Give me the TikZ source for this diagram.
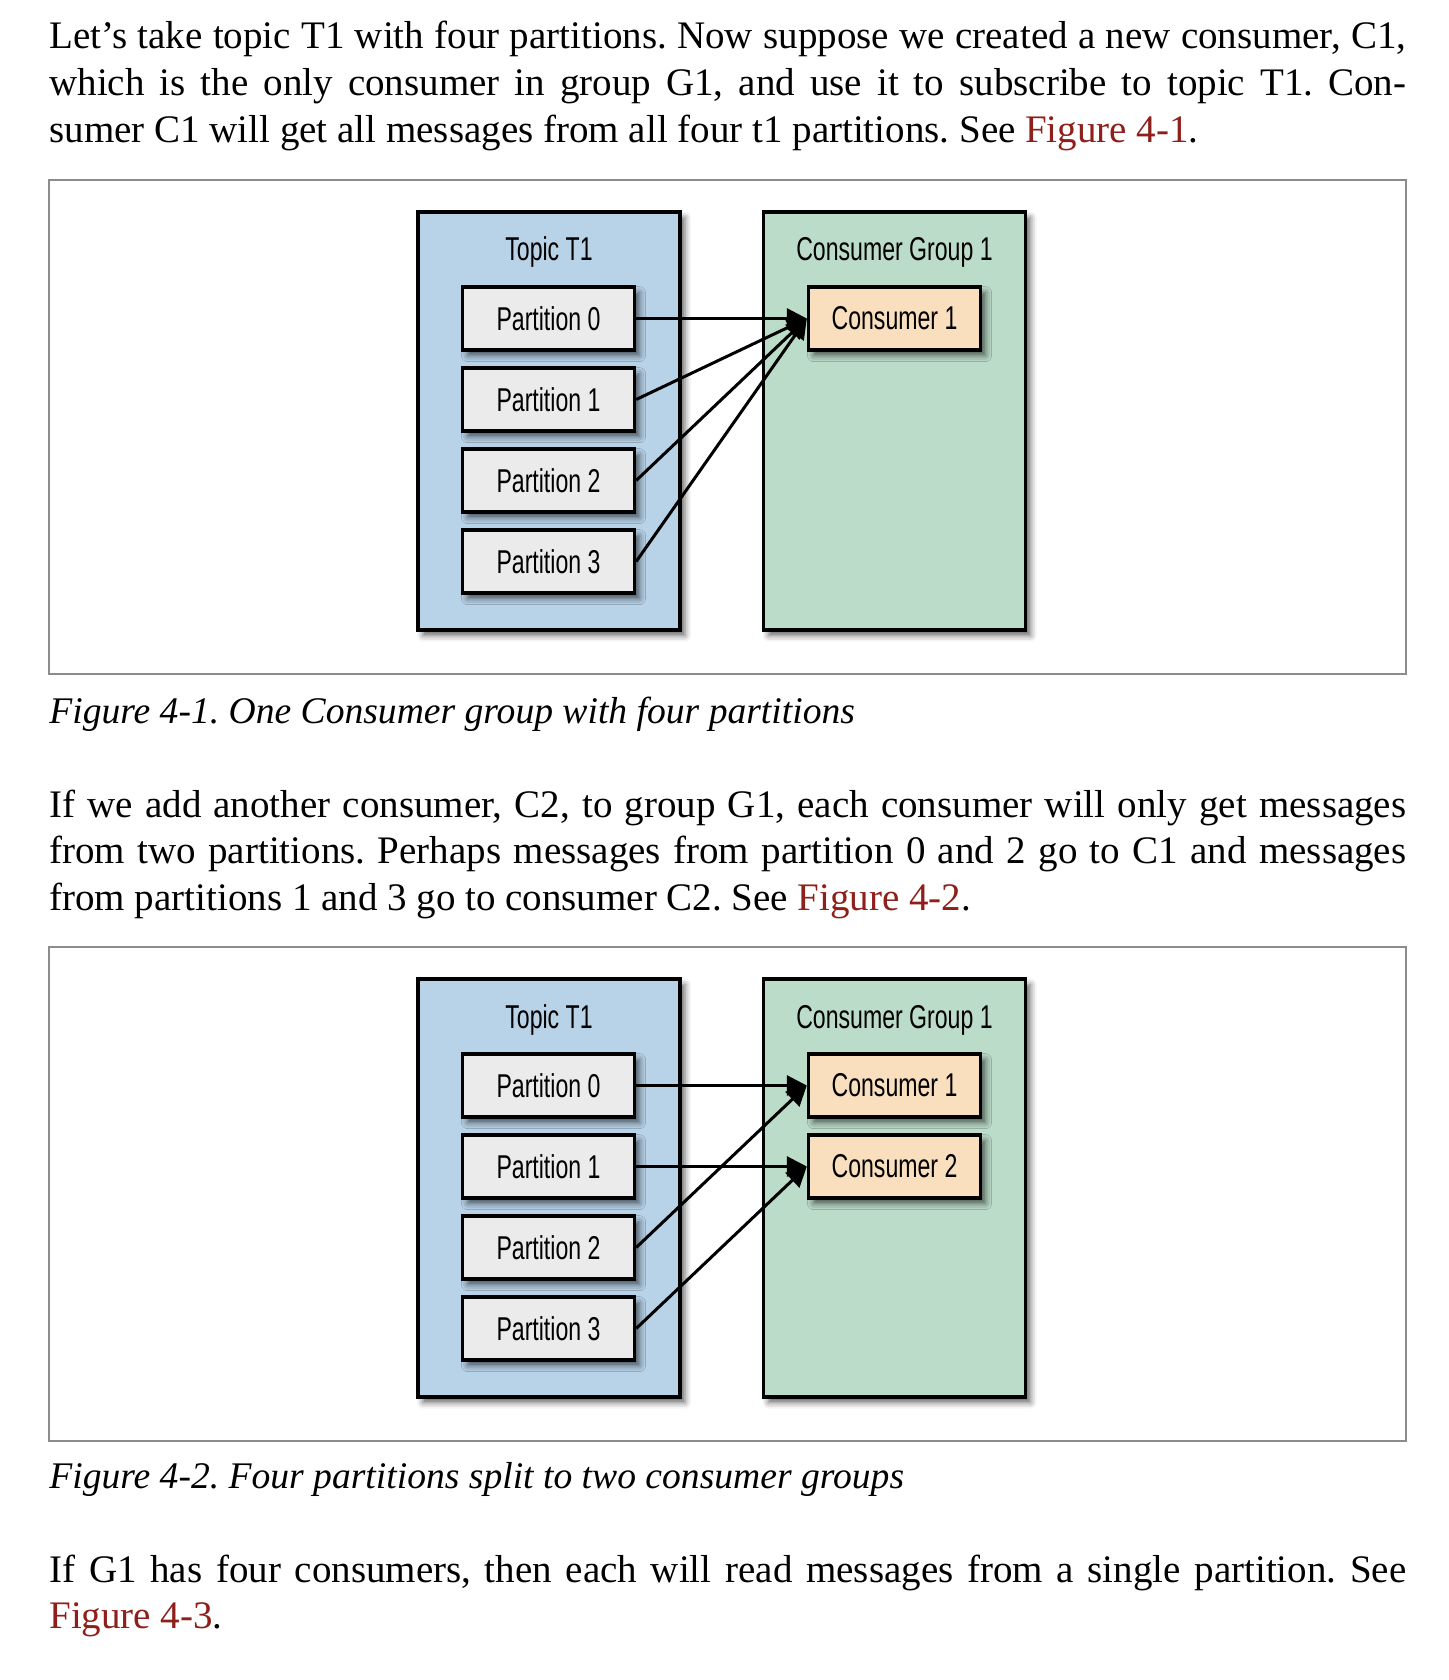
\documentclass[tikz,border=0pt]{standalone}
\usepackage{fontspec}
\setmainfont{Liberation Serif}
\newfontfamily\boxfont[FakeStretch=0.7]{Liberation Sans}
\usetikzlibrary{arrows.meta,shadows.blur}

\definecolor{topicblue}{HTML}{B8D2E8}
\definecolor{groupgreen}{HTML}{BBDCC8}
\definecolor{partgrey}{HTML}{EBEBEB}
\definecolor{conspeach}{HTML}{F9DFBD}
\definecolor{linkred}{HTML}{8E1F1A}
\definecolor{framegrey}{HTML}{8C8C8C}

\newcommand\fullline[1]{\hbox to 678.5pt{#1}}

\tikzset{
  boxshadow/.style={blur shadow={shadow xshift=2.5pt, shadow yshift=-2.8pt, shadow blur radius=3pt, shadow opacity=60}},
  bigbox/.style={draw, line width=1.7pt, minimum width=131pt, minimum height=209pt, boxshadow},
  topicbox/.style={bigbox, fill=topicblue},
  groupbox/.style={bigbox, fill=groupgreen},
  partbox/.style={draw, line width=1.7pt, fill=partgrey, inner sep=0pt, minimum width=86pt, minimum height=31.5pt, font=\boxfont\fontsize{16.5}{18}\selectfont, boxshadow},
  consbox/.style={partbox, fill=conspeach},
  boxtitle/.style={anchor=base, inner sep=0pt, font=\boxfont\fontsize{16.5}{18}\selectfont},
  bodyline/.style={anchor=base west, inner sep=0pt, font=\fontsize{19.5}{23.5}\selectfont},
  figcaption/.style={bodyline, font=\fontsize{18.8}{23.5}\selectfont\itshape},
  figframe/.style={draw=framegrey, line width=0.7pt},
  flow/.style={-{Triangle[length=10pt, width=10pt]}, line width=1.5pt}
}

\begin{document}
\frenchspacing
\begin{tikzpicture}[x=0.5pt, y=-0.5pt]
\useasboundingbox (0,0) rectangle (1448,1680);

% first paragraph
\node[bodyline] (a1) at (49,49) {\fullline{Let’s take topic T1 with four partitions. Now suppose we created a new consumer, C1,}};
\node[bodyline] (a2) at (49,96) {\fullline{which is the only consumer in group G1, and use it to subscribe to topic T1. Con-}};
\node[bodyline] (a3) at (49,143) {sumer C1 will get all messages from all four t1 partitions. See \textcolor{linkred}{Figure 4-1}.};

% figure 4-1
\draw[figframe] (49,180) rectangle (1406,674);
\node[topicbox] (topic) at (549,421) {};
\node[groupbox] (group) at (894.5,421) {};
\node[boxtitle] (topictitle) at (549,261) {Topic T1};
\node[boxtitle] (grouptitle) at (894.5,261) {Consumer Group 1};
\node[partbox] (p0) at (548.5,318.5) {Partition 0};
\node[partbox] (p1) at (548.5,399.5) {Partition 1};
\node[partbox] (p2) at (548.5,480.5) {Partition 2};
\node[partbox] (p3) at (548.5,561.5) {Partition 3};
\node[consbox] (c1) at (894.5,318.5) {Consumer 1};
\draw[flow] (p0.east) -- (c1.west);
\draw[flow] (p1.east) -- (c1.west);
\draw[flow] (p2.east) -- (c1.west);
\draw[flow] (p3.east) -- (c1.west);
\node[figcaption] (cap1) at (49,723) {Figure 4-1. One Consumer group with four partitions};

% second paragraph
\node[bodyline] (b1) at (49,817) {\fullline{If we add another consumer, C2, to group G1, each consumer will only get messages}};
\node[bodyline] (b2) at (49,863.5) {\fullline{from two partitions. Perhaps messages from partition 0 and 2 go to C1 and messages}};
\node[bodyline] (b3) at (49,910) {from partitions 1 and 3 go to consumer C2. See \textcolor{linkred}{Figure 4-2}.};

% figure 4-2
\draw[figframe] (49,947) rectangle (1406,1441);
\node[topicbox] (topic2) at (549,1188) {};
\node[groupbox] (group2) at (894.5,1188) {};
\node[boxtitle] (topictitle2) at (549,1028) {Topic T1};
\node[boxtitle] (grouptitle2) at (894.5,1028) {Consumer Group 1};
\node[partbox] (q0) at (548.5,1085.5) {Partition 0};
\node[partbox] (q1) at (548.5,1166.5) {Partition 1};
\node[partbox] (q2) at (548.5,1247.5) {Partition 2};
\node[partbox] (q3) at (548.5,1328.5) {Partition 3};
\node[consbox] (d1) at (894.5,1085.5) {Consumer 1};
\node[consbox] (d2) at (894.5,1166.5) {Consumer 2};
\draw[flow] (q0.east) -- (d1.west);
\draw[flow] (q1.east) -- (d2.west);
\draw[flow] (q2.east) -- (d1.west);
\draw[flow] (q3.east) -- (d2.west);
\node[figcaption] (cap2) at (49,1488) {Figure 4-2. Four partitions split to two consumer groups};

% third paragraph
\node[bodyline] (e1) at (49,1582) {\fullline{If G1 has four consumers, then each will read messages from a single partition. See}};
\node[bodyline] (e2) at (49,1628) {\textcolor{linkred}{Figure 4-3}.};
\end{tikzpicture}
\end{document}
